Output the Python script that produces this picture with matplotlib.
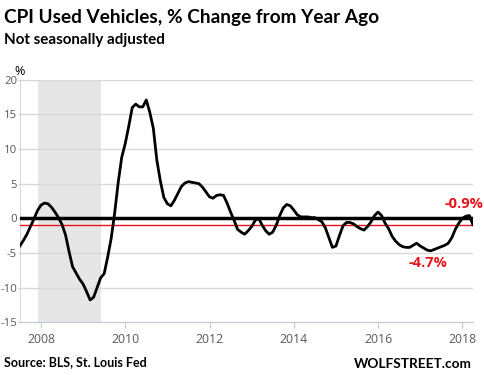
import numpy as np
import matplotlib
matplotlib.use("Agg")
import matplotlib.pyplot as plt

plt.rcParams['axes.unicode_minus'] = False

# CPI used vehicles, % change from year ago, monthly Jul 2007 .. Apr 2018
y2007 = [-4.0, -3.2, -2.3, -1.2, -0.1, 1.1]
y2008 = [1.9, 2.2, 2.1, 1.6, 0.9, 0.1, -0.9, -2.4, -4.8, -7.0, -7.9, -8.8]
y2009 = [-9.5, -10.6, -11.8, -11.4, -10.0, -8.6, -8.0, -5.6, -2.9, 0.8, 5.2, 8.8]
y2010 = [10.8, 13.3, 16.0, 16.5, 16.1, 16.1, 17.1, 15.3, 13.0, 8.4, 5.4, 3.0]
y2011 = [2.1, 1.8, 2.6, 3.6, 4.6, 5.1, 5.3, 5.2, 5.1, 5.0, 4.5, 3.8]
y2012 = [3.1, 2.9, 3.3, 3.4, 3.3, 2.2, 0.9, -0.3, -1.6, -2.0, -2.3, -1.8]
y2013 = [-1.2, -0.3, 0.0, -1.0, -1.8, -2.3, -2.0, -1.0, 0.4, 1.5, 2.0, 1.8]
y2014 = [1.2, 0.5, 0.2, 0.2, 0.2, 0.1, 0.1, -0.2, -0.5, -1.4, -2.8, -4.2]
y2015 = [-4.0, -2.5, -1.1, -0.6, -0.6, -0.8, -1.2, -1.5, -1.7, -1.2, -0.5, 0.4]
y2016 = [0.9, 0.4, -0.7, -1.5, -2.6, -3.3, -3.8, -4.1, -4.2, -4.2, -3.9, -3.6]
y2017 = [-4.0, -4.3, -4.6, -4.7, -4.5, -4.3, -4.1, -3.9, -3.6, -2.8, -1.6, -0.7]
y2018 = [0.0, 0.3, 0.4, -0.9]

vals = y2007 + y2008 + y2009 + y2010 + y2011 + y2012 + y2013 + y2014 + y2015 + y2016 + y2017 + y2018
start = 2007.5
t = start + np.arange(len(vals)) / 12.0

recession = (2007.92, 2009.42)
latest = -0.9
low = -4.7
yticks = [-15, -10, -5, 0, 5, 10, 15, 20]
xticks = [2008, 2010, 2012, 2014, 2016, 2018]

tickcol = '#595959'
bold = 'Lato'

fig = plt.figure(figsize=(4.85, 3.75), dpi=100)
ax = fig.add_axes([0.041, 0.141, 0.934, 0.646])

ax.axvspan(recession[0], recession[1], color='#e6e6e6', lw=0, zorder=0)
for v in yticks[1:]:
    ax.axhline(v, color='#d9d9d9', lw=1, zorder=1)
ax.axhline(0, color='black', lw=2.5, zorder=3)
ax.axhline(latest, color='#e8141c', lw=1, zorder=3)
ax.plot(t, vals, color='black', lw=2, zorder=4)

ax.text(2017.18, -6.4, '%.1f%%' % low, color='#e8141c', fontsize=10.5,
        fontweight='bold', family='Open Sans', ha='center', va='center')
ax.text(2018.05, 2.1, '%.1f%%' % latest, color='#e8141c', fontsize=10.5,
        fontweight='bold', family='Open Sans', ha='center', va='center',
        clip_on=False)

ax.set_xlim(start, t[-1])
ax.set_ylim(-15, 20)
ax.set_yticks(yticks)
ax.set_xticks(xticks)
ax.tick_params(axis='x', colors='#bfc8d6', labelcolor=tickcol, labelsize=8.8,
               length=4)
ax.tick_params(axis='y', colors='#bfc8d6', labelcolor=tickcol, labelsize=8.2,
               length=1.5, pad=0.5)
for lab in ax.get_xticklabels() + ax.get_yticklabels():
    lab.set_family('Open Sans')
for s in ['top', 'right']:
    ax.spines[s].set_visible(False)
ax.spines['left'].set_color('#d9d9d9')
ax.spines['bottom'].set_color('#bfc8d6')

fig.text(0.008, 0.975, 'CPI Used Vehicles, % Change from Year Ago', fontsize=13.7,
         fontweight='bold', family=bold, va='top', ha='left')
fig.text(0.008, 0.912, 'Not seasonally adjusted', fontsize=10.9,
         fontweight='bold', family=bold, va='top', ha='left')
fig.text(0.03, 0.81, '%', fontsize=9, family='Open Sans', va='center', ha='left')
fig.text(0.008, 0.035, 'Source: BLS, St. Louis Fed', fontsize=9,
         fontweight='bold', family=bold, va='center', ha='left')
fig.text(0.972, 0.03, 'WOLFSTREET.com', fontsize=9.8,
         fontweight='bold', family=bold, va='center', ha='right')

fig.savefig('out.png', dpi=100)
